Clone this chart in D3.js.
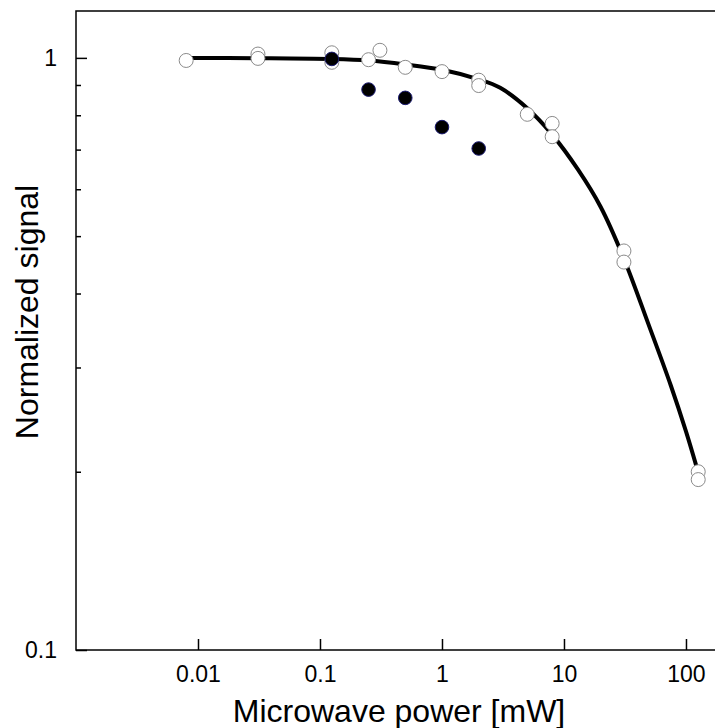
<!DOCTYPE html>
<html>
<head>
<meta charset="utf-8">
<script src="https://cdn.jsdelivr.net/npm/d3@7"></script>
<style>
  body { margin: 0; background: #fff; }
  #chart-container { width: 715px; height: 728px; }
  text { font-family: "Liberation Sans", Arial, sans-serif; fill: #000; }
</style>
</head>
<body>
<div id="chart-container"></div>
<script>
// Microwave power saturation plot
const openPower = [0.008, 0.031, 0.031, 0.125, 0.125, 0.25, 0.31, 0.5, 1, 2, 2, 5, 8, 8, 31, 31, 126, 126];
const openSignal = [0.99, 1.015, 0.998, 1.02, 0.983, 0.993, 1.03, 0.964, 0.948, 0.917, 0.898, 0.803, 0.775, 0.736, 0.472, 0.452, 0.2, 0.194];

const filledPower = [0.125, 0.25, 0.5, 1, 2];
const filledSignal = [0.996, 0.884, 0.856, 0.764, 0.703];

// fitted curve
const fitPower = [0.008, 0.03, 0.12, 0.25, 0.5, 1, 2, 3, 5, 8, 13, 20, 31, 50, 75, 100, 122];
const fitSignal = [1.0, 0.999, 0.996, 0.99, 0.975, 0.955, 0.92, 0.89, 0.822, 0.742, 0.648, 0.56, 0.458, 0.352, 0.28, 0.234, 0.204];

const xTicks = [0.01, 0.1, 1, 10, 100];
const yTicks = [0.1, 1];
const yMinorTicks = [0.2, 0.3, 0.4, 0.5, 0.6, 0.7, 0.8, 0.9];

(function() {
  const width = 715, height = 728;
  const left = 76, top = 11, bottom = 650;

  const svg = d3.select('#chart-container')
    .append('svg')
    .attr('width', width)
    .attr('height', height);

  const xScale = d3.scaleLog().domain([0.001, 200]).range([left, 722.7]);
  const yScale = d3.scaleLog().domain([0.1, 1.2]).range([bottom, top]);

  // x axis
  const xAxis = svg.append('g')
    .attr('transform', `translate(0,${bottom})`)
    .call(d3.axisBottom(xScale)
      .tickValues(xTicks)
      .tickFormat(d3.format('~g'))
      .tickSizeInner(-11)
      .tickSizeOuter(0)
      .tickPadding(16));
  xAxis.select('.domain').remove();
  xAxis.selectAll('line').attr('stroke', '#000').attr('stroke-width', 1.5);
  xAxis.selectAll('text').style('font-size', '23px').attr('font-family', null);

  // y axis
  const yAxis = svg.append('g')
    .attr('transform', `translate(${left},0)`)
    .call(d3.axisLeft(yScale)
      .tickValues(yTicks)
      .tickFormat(d3.format('~g'))
      .tickSizeInner(-11)
      .tickSizeOuter(0)
      .tickPadding(19));
  yAxis.select('.domain').remove();
  yAxis.selectAll('line').attr('stroke', '#000').attr('stroke-width', 1.5);
  yAxis.selectAll('text').style('font-size', '23px').attr('font-family', null);

  const yMinor = svg.append('g')
    .attr('transform', `translate(${left},0)`)
    .call(d3.axisLeft(yScale)
      .tickValues(yMinorTicks)
      .tickFormat('')
      .tickSizeInner(-5)
      .tickSizeOuter(0));
  yMinor.select('.domain').remove();
  yMinor.selectAll('line').attr('stroke', '#000').attr('stroke-width', 1.5);

  // frame
  svg.append('rect')
    .attr('x', left)
    .attr('y', top)
    .attr('width', 760 - left)
    .attr('height', bottom - top)
    .attr('fill', 'none')
    .attr('stroke', '#000')
    .attr('stroke-width', 1.5);

  // fit line
  const fitData = fitPower.map((p, i) => [p, fitSignal[i]]);
  const line = d3.line()
    .x(d => xScale(d[0]))
    .y(d => yScale(d[1]))
    .curve(d3.curveCatmullRom.alpha(0.5));

  svg.append('path')
    .datum(fitData)
    .attr('d', line)
    .attr('fill', 'none')
    .attr('stroke', '#000')
    .attr('stroke-width', 4);

  // open circles
  svg.selectAll('.open-pt')
    .data(openPower.map((p, i) => [p, openSignal[i]]))
    .enter()
    .append('circle')
    .attr('class', 'open-pt')
    .attr('cx', d => xScale(d[0]))
    .attr('cy', d => yScale(d[1]))
    .attr('r', 7)
    .attr('fill', '#fff')
    .attr('stroke', '#8a8a8a')
    .attr('stroke-width', 1);

  // filled circles
  svg.selectAll('.filled-pt')
    .data(filledPower.map((p, i) => [p, filledSignal[i]]))
    .enter()
    .append('circle')
    .attr('class', 'filled-pt')
    .attr('cx', d => xScale(d[0]))
    .attr('cy', d => yScale(d[1]))
    .attr('r', 6.8)
    .attr('fill', '#000')
    .attr('stroke', '#1a1a70')
    .attr('stroke-width', 1);

  // axis titles
  svg.append('text')
    .attr('x', 399)
    .attr('y', 722)
    .attr('text-anchor', 'middle')
    .style('font-size', '32px')
    .text('Microwave power [mW]');

  svg.append('text')
    .attr('transform', 'translate(38,312) rotate(-90)')
    .attr('text-anchor', 'middle')
    .style('font-size', '32px')
    .text('Normalized signal');
})();
</script>
</body>
</html>
